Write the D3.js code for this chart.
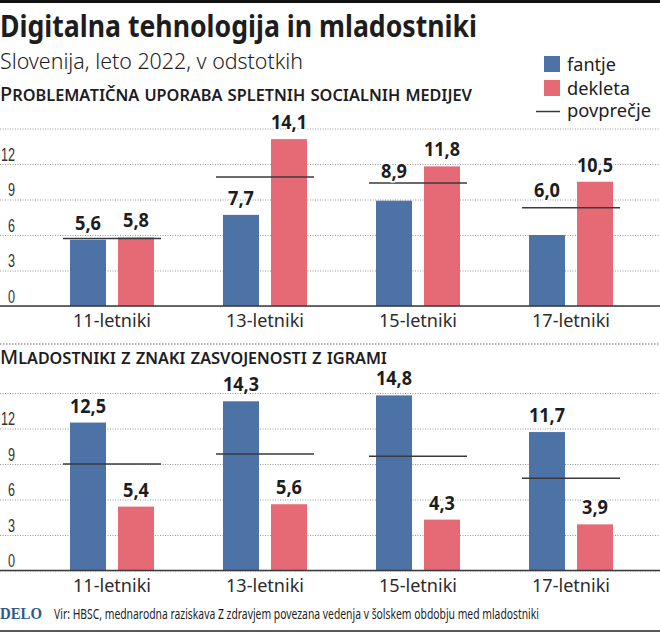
<!DOCTYPE html>
<html>
<head>
<meta charset="utf-8">
<script src="https://cdn.jsdelivr.net/npm/d3@7"></script>
<style>
  html, body { margin: 0; padding: 0; background: #fff; }
  svg { display: block; font-family: "Noto Sans", sans-serif; color: #1d1d1f; }
</style>
</head>
<body>
<svg id="chart" width="660" height="633"></svg>
<script>
const ageGroups = ['11-letniki', '13-letniki', '15-letniki', '17-letniki'];
const genders = ['fantje', 'dekleta'];
const yTicks = [0, 3, 6, 9, 12, 15];

const socialBoys = [5.6, 7.7, 8.9, 6.0];
const socialGirls = [5.8, 14.1, 11.8, 10.5];
const socialAverage = [5.7, 10.9, 10.4, 8.3];

const gamingBoys = [12.5, 14.3, 14.8, 11.7];
const gamingGirls = [5.4, 5.6, 4.3, 3.9];
const gamingAverage = [9.0, 9.85, 9.65, 7.8];

const colors = { fantje: '#4c72a6', dekleta: '#e56a76' };
const ink = '#1d1d1f';

const svg = d3.select('#chart');
const width = 660;

const x = d3.scaleBand().domain(ageGroups).range([35.5, 647.5]);
const xInner = d3.scaleBand().domain(genders).range([-42, 42]).paddingInner(0.25);
const comma = d => d.toFixed(1).replace('.', ',');

// the paper's font is condensed, so squeeze the text to the measured width
function fit(sel, len) {
  return sel.attr('textLength', len).attr('lengthAdjust', 'spacingAndGlyphs');
}

function text(str, px, py, size, weight) {
  return svg.append('text').attr('x', px).attr('y', py)
    .attr('font-size', size).attr('font-weight', weight || 400)
    .attr('fill', ink).text(str);
}

function drawPanel(boys, girls, average, baseY) {
  const y = d3.scaleLinear().domain([0, 15]).range([baseY, baseY - 177.5]);
  const g = svg.append('g');

  // grid and tick labels
  const axis = d3.axisLeft(y).tickValues(yTicks).tickSize(-width)
    .tickFormat(d => d === 15 ? '' : d);
  const ax = g.append('g').call(axis);
  ax.select('.domain').remove();
  ax.selectAll('.tick line')
    .attr('stroke', '#999').attr('stroke-dasharray', '1 1.5').attr('stroke-width', 1);
  ax.selectAll('.tick text')
    .attr('x', 15).attr('y', -4).attr('dy', 0)
    .attr('font-size', 19).attr('font-family', null)
    .attr('fill', '#333').attr('text-anchor', 'end')
    .each(function(d) {
      if (d !== 15) fit(d3.select(this), String(d).length * 7);
    });

  // bars
  ageGroups.forEach((age, i) => {
    const cx = x(age) + x.bandwidth() / 2;
    const vals = [boys[i], girls[i]];
    genders.forEach((gender, j) => {
      g.append('rect')
        .attr('x', cx + xInner(gender))
        .attr('y', y(vals[j]))
        .attr('width', xInner.bandwidth())
        .attr('height', y(0) - y(vals[j]))
        .attr('fill', colors[gender]);
    });
    // average line
    g.append('line')
      .attr('x1', cx - 49).attr('x2', cx + 49)
      .attr('y1', y(average[i])).attr('y2', y(average[i]))
      .attr('stroke', '#3a3a3c').attr('stroke-width', 1.5);
    // value labels, lifted over the average line when it sits just above the bar
    genders.forEach((gender, j) => {
      const top = y(vals[j]);
      const avgY = y(average[i]);
      const gap = top - avgY;
      let labelY = top - 10;
      if (gap > 10 && gap < 30) labelY = avgY - (gap < 20 ? 5 : 11);
      const label = comma(vals[j]);
      fit(g.append('text')
        .attr('x', cx + xInner(gender) + xInner.bandwidth() / 2)
        .attr('y', labelY)
        .attr('text-anchor', 'middle')
        .attr('font-size', 20).attr('font-weight', 700)
        .attr('fill', ink)
        .attr('stroke', '#fff').attr('stroke-width', 3).attr('paint-order', 'stroke')
        .text(label), label.length === 4 ? 36 : 26);
    });
    fit(g.append('text')
      .attr('x', cx).attr('y', baseY + 21)
      .attr('text-anchor', 'middle')
      .attr('font-size', 18.5).attr('fill', '#2b2b2d')
      .text(age), 78);
  });

  // baseline
  g.append('line').attr('x1', 0).attr('x2', width)
    .attr('y1', y(0)).attr('y2', y(0))
    .attr('stroke', '#3a3a3c').attr('stroke-width', 1.5);
}

// rules
svg.append('rect').attr('x', 0).attr('y', 0).attr('width', width).attr('height', 3).attr('fill', '#111');
svg.append('line').attr('x1', 0).attr('x2', width).attr('y1', 344).attr('y2', 344)
  .attr('stroke', '#666').attr('stroke-dasharray', '1.5 1.5');
svg.append('line').attr('x1', 0).attr('x2', width).attr('y1', 631).attr('y2', 631)
  .attr('stroke', '#222').attr('stroke-width', 1.5);

drawPanel(socialBoys, socialGirls, socialAverage, 306);
drawPanel(gamingBoys, gamingGirls, gamingAverage, 570.5);

// titles
fit(text('Digitalna tehnologija in mladostniki', 0, 37, 31, 700), 477);
fit(text('Slovenija, leto 2022, v odstotkih', 0, 69, 22, 300), 303);
fit(text('Problematična uporaba spletnih socialnih medijev', 0, 101, 20, 500)
  .attr('font-variant', 'small-caps'), 472);
fit(text('Mladostniki z znaki zasvojenosti z igrami', 0, 364, 20, 500)
  .attr('font-variant', 'small-caps'), 387);

// legend
const legendWidths = [49, 63];
genders.forEach((gender, i) => {
  svg.append('rect').attr('x', 544).attr('y', 56 + i * 24).attr('width', 16).attr('height', 16)
    .attr('fill', colors[gender]);
  fit(text(gender, 567, 71 + i * 24, 18.5), legendWidths[i]);
});
svg.append('line').attr('x1', 536).attr('x2', 560).attr('y1', 111.5).attr('y2', 111.5)
  .attr('stroke', '#3a3a3c').attr('stroke-width', 1.5);
fit(text('povprečje', 567, 117, 18.5), 84);

// footer
fit(text('DELO', 0, 619, 16, 700).attr('font-family', '"Liberation Serif", serif').attr('fill', '#2c5a8c'), 42);
fit(text('Vir: HBSC, mednarodna raziskava Z zdravjem povezana vedenja v šolskem obdobju med mladostniki', 54, 619, 14.5), 485);
</script>
</body>
</html>
